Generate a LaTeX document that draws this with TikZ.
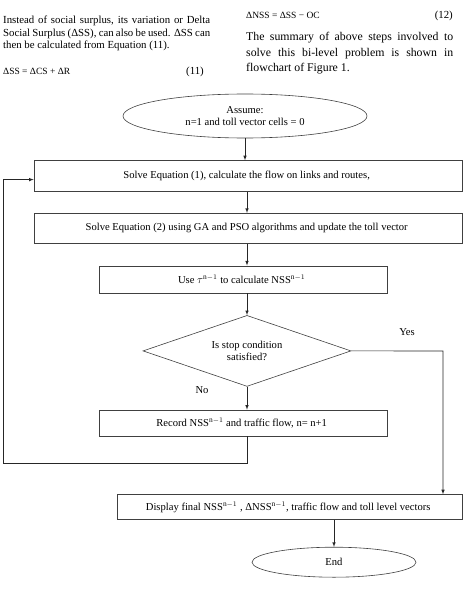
\documentclass[tikz,border=0pt]{standalone}
\usepackage{fontspec}
\setmainfont{Liberation Serif}
\usetikzlibrary{arrows}
\usetikzlibrary{shapes.geometric, positioning}

\begin{document}
\begin{tikzpicture}[x=1pt,y=-1pt,every node/.style={inner sep=0pt,align=center,font=\fontsize{10.6}{12.5}\selectfont},
	box/.style={draw=black!75,line width=0.6pt,rectangle},
	term/.style={draw=black!75,line width=0.6pt,ellipse},
	cond/.style={draw=black!75,line width=0.6pt,diamond,aspect=2.9},
	flow/.style={-latex,draw=black!85,line width=0.6pt}]

	\useasboundingbox (0,0) rectangle (467,591);

	\node[anchor=north west,text width=207pt,align=justify,font=\fontsize{10.8}{12.4}\selectfont] (leftpar) at (3,16) {
		Instead of social surplus, its variation or Delta\linebreak
		Social Surplus (ΔSS), can also be used. ΔSS can\linebreak
		then be calculated from Equation (11).
	};
	\node[anchor=base west,font=\fontsize{9.5}{12}\selectfont] (eq11) at (3,74.5) {ΔSS = ΔCS + ΔR};
	\node[anchor=base east,font=\fontsize{10.8}{12}\selectfont] (num11) at (204,74.5) {(11)};
	\node[anchor=base west,font=\fontsize{9.5}{12}\selectfont] (eq12) at (246,18.5) {ΔNSS = ΔSS − OC};
	\node[anchor=base east,font=\fontsize{10.8}{12}\selectfont] (num12) at (453,18.5) {(12)};
	\node[anchor=north west,text width=207pt,align=justify,font=\fontsize{11.8}{15.7}\selectfont] (rightpar) at (246,32) {
		The summary of above steps involved to\linebreak
		solve this bi-level problem is shown in\linebreak
		flowchart of Figure 1.
	};

	\node[term,minimum width=244pt,minimum height=44pt] (start) at (245,116) {
		Assume:\\
		n=1 and toll vector cells = 0
	};
	\node[box,minimum width=428pt,minimum height=31pt,below=22pt of start,xshift=3pt] (solve1) {
		Solve Equation (1), calculate the flow on links and routes,
	};
	\node[box,minimum width=428pt,minimum height=30pt,below=21pt of solve1] (solve2) {
		Solve Equation (2) using GA and PSO algorithms and update the toll vector
	};
	\node[box,minimum width=288pt,minimum height=27pt,below=22pt of solve2,xshift=-5pt] (calc) {
		Use $\tau^{\mathrm{n}-1}$ to calculate NSS$^{\mathrm{n}-1}$
	};
	\node[cond,minimum width=208pt,minimum height=71pt,below=22pt of calc,xshift=4pt] (stop) {
		Is stop condition\\
		satisfied?
	};
	\node[box,minimum width=288pt,minimum height=26pt,below=23pt of stop,xshift=-4pt] (record) {
		Record NSS$^{\mathrm{n}-1}$ and traffic flow, n= n+1
	};
	\node[box,minimum width=345pt,minimum height=25pt,below=58pt of record,xshift=46.5pt] (display) {
		Display final NSS$^{\mathrm{n}-1}$ , ΔNSS$^{\mathrm{n}-1}$, traffic flow and toll level vectors
	};
	\node[term,minimum width=164pt,minimum height=30pt,below=27pt of display,xshift=44.5pt] (end) {End};

	\node (yes) at (407,332) {Yes};
	\node (no) at (202,390) {No};

	\coordinate (back) at (3,463);
	\coordinate (entry) at ([yshift=-3.5pt]solve1.west);
	\coordinate (yesturn) at (443,351);

	\draw[flow] (start) -- (start |- solve1.north);
	\draw[flow] (solve1.south -| stop.north) -- (solve2.north -| stop.north);
	\draw[flow] (solve2.south -| stop.north) -- (calc.north -| stop.north);
	\draw[flow] (calc.south -| stop.north) -- (stop.north);
	\draw[flow] (stop.south) -- (record.north -| stop.south);
	\draw[flow] (record.south -| stop.south) |- (back) |- (entry);
	\draw[flow] (stop.east) -- (yesturn) -- (yesturn |- display.north);
	\draw[flow] (display.south -| end.north) -- (end.north);
\end{tikzpicture}
\end{document}
